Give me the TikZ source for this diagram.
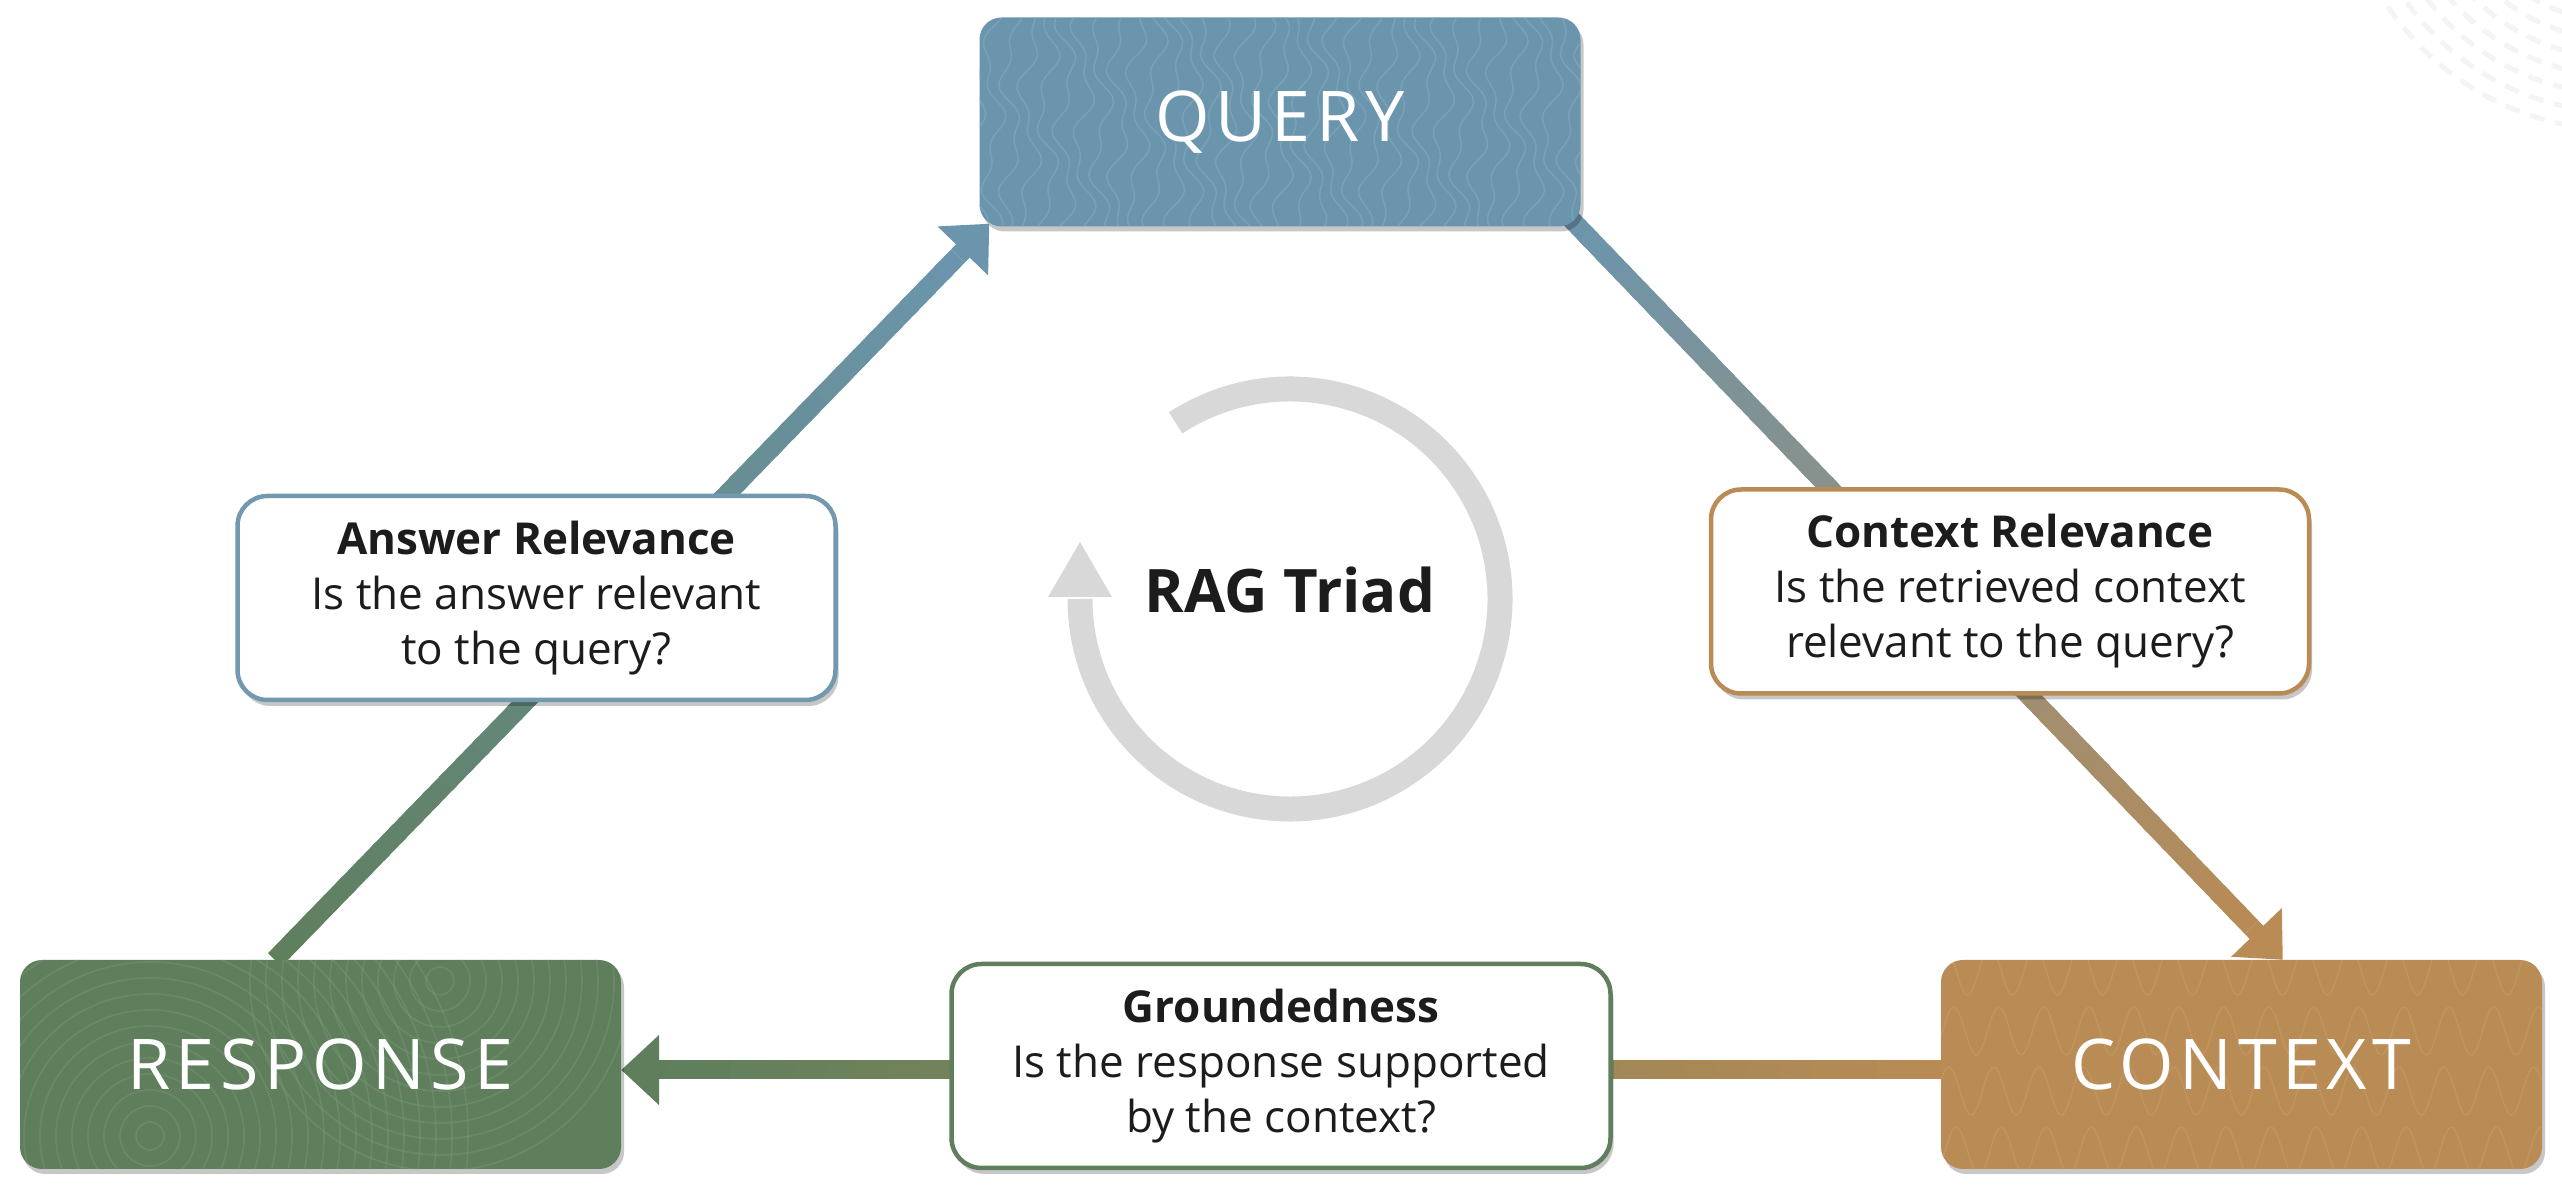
\documentclass[tikz,border=0pt]{standalone}
\usepackage{fontspec}
\setmainfont{Open Sans}
\usetikzlibrary{arrows.meta,calc,shadows}
\definecolor{qblue}{HTML}{6B95AD}
\definecolor{qbluel}{HTML}{8DB2C6}
\definecolor{qborder}{HTML}{7399AF}
\definecolor{rgreen}{HTML}{5F7F5C}
\definecolor{rgreenl}{HTML}{7C9A79}
\definecolor{ctan}{HTML}{B98B55}
\definecolor{ctanl}{HTML}{CCA170}
\definecolor{ringgray}{HTML}{D8D8D8}
\definecolor{txt}{HTML}{1C1C1C}
\pgfdeclarelayer{bg}
\pgfdeclarelayer{lines}
\pgfsetlayers{bg,lines,main}
\tikzset{
  mainbox/.style={rounded corners=22pt, minimum width=601pt, minimum height=209pt,
    inner sep=0pt, drop shadow={shadow xshift=3pt, shadow yshift=-5pt, opacity=0.22, fill=black}},
  maintext/.style={text=white, font=\fontsize{70}{76}\selectfont\addfontfeature{LetterSpace=8}},
  notebox/.style={rounded corners=30pt, fill=white, line width=4.5pt, minimum width=598pt,
    minimum height=204pt, align=center, text=txt, inner sep=0pt,
    font=\fontsize{44}{55}\selectfont,
    drop shadow={shadow xshift=3pt, shadow yshift=-6pt, opacity=0.22, fill=black}},
  connline/.style={line width=19pt, line cap=butt},
  headtip/.style={-{Triangle[length=38pt,width=68pt]}},
  textureline/.style={line width=1.6pt, opacity=0.4},
}
\newcommand\gradline[4]{%
  \foreach \k in {1,...,40}{%
    \pgfmathsetmacro\ga{(\k-1)/40}%
    \pgfmathsetmacro\gb{min(1,\k/40+0.008)}%
    \pgfmathsetmacro\gp{100-(\k-0.5)*2.5}%
    \draw[connline, draw=#3!\gp!#4] ($(#1)!\ga!(#2)$) -- ($(#1)!\gb!(#2)$);
  }}
\begin{document}
\begin{tikzpicture}[x=1pt,y=1pt]
\useasboundingbox (0,0) rectangle (2562,1196);
\begin{pgfonlayer}{bg}
  \fill[white] (0,0) rectangle (2562,1196);
  \begin{scope}
    \clip (0,0) rectangle (2562,1196);
    \foreach \r in {100,118,...,290}
      \draw[gray!9, line width=5pt, dash pattern=on 15pt off 11pt, dash phase=\r] (2620,1346) circle[radius=\r];
  \end{scope}
\end{pgfonlayer}

% ---------- main boxes ----------
\node[mainbox, fill=qblue] (query) at (1280,1074) {};
\begin{scope}
  \clip[rounded corners=22pt] (query.south west) rectangle (query.north east);
  \foreach \x in {975,993,...,1600}
    \draw[textureline, qbluel] plot[domain=960:1190, samples=40, smooth, variable=\t]
      ({\x+8*sin(3*\t+\x*3)+5*sin(7*\t-\x)}, \t);
\end{scope}
\node[maintext] (querytext) at (query) {QUERY};

\node[mainbox, fill=rgreen] (resp) at (320.5,131.5) {};
\begin{scope}
  \clip[rounded corners=22pt] (resp.south west) rectangle (resp.north east);
  \foreach \r in {14,30,...,320} {
    \draw[textureline, rgreenl] (150,60) circle[radius=\r];
  }
  \foreach \r in {14,30,...,200} {
    \draw[textureline, rgreenl] (440,215) circle[radius=\r];
  }
\end{scope}
\node[maintext] (resptext) at (resp) {RESPONSE};

\node[mainbox, fill=ctan] (ctx) at (2241.5,131.5) {};
\begin{scope}
  \clip[rounded corners=22pt] (ctx.south west) rectangle (ctx.north east);
  \foreach \yy/\ph in {45/0,105/60,165/20,225/90}
    \draw[textureline, ctanl] plot[domain=1930:2550, samples=160, smooth, variable=\t]
      ({\t}, {\yy+24*sin(8*(\t-1900)+\ph)});
\end{scope}
\node[maintext] (ctxtext) at (ctx) {CONTEXT};

% ---------- note boxes ----------
\node[notebox, draw=qborder] (ansrel) at (536.5,598)
  {\textbf{Answer Relevance}\\Is the answer relevant\\to the query?};
\node[notebox, draw=ctan] (ctxrel) at (2010,604.5)
  {\textbf{Context Relevance}\\Is the retrieved context\\relevant to the query?};
\node[notebox, draw=rgreen, minimum width=659pt] (ground) at (1281,130)
  {\textbf{Groundedness}\\Is the response supported\\by the context?};

% ---------- connectors ----------
\coordinate (r1) at ($(resp.north west)+(255,0)$);
\coordinate (q1) at ($(query.south west)+(10,3)$);
\coordinate (b1) at ($(q1)!45pt!(r1)$);
\coordinate (q2) at ($(query.south east)+(-12,10)$);
\coordinate (c2) at ($(ctx.north west)+(342,0)$);
\coordinate (b2) at ($(c2)!45pt!(q2)$);
\coordinate (c3) at ($(ctx.west)+(0,-5.5)$);
\coordinate (r3) at ($(resp.east)+(0,-5.5)$);
\coordinate (b3) at ($(r3)!45pt!(c3)$);
\begin{pgfonlayer}{lines}
  \gradline{r1}{b1}{rgreen}{qblue}
  \draw[connline, qblue, headtip] (b1) -- (q1);
  \gradline{q2}{b2}{qblue}{ctan}
  \draw[connline, ctan, headtip] (b2) -- (c2);
  \gradline{c3}{b3}{ctan}{rgreen}
  \draw[connline, rgreen, headtip] (b3) -- (r3);
\end{pgfonlayer}

% ---------- RAG triad ring ----------
\coordinate (ringc) at (1290,597);
\draw[ringgray, line width=25pt] ($(ringc)+(123:210)$) arc[start angle=123, end angle=-180, radius=210];
\fill[ringgray] ($(ringc)+(-242,2)$) -- ($(ringc)+(-178,2)$) -- ($(ringc)+(-210,57)$) -- cycle;
\node[anchor=base, text=txt, font=\bfseries\fontsize{60}{66}\selectfont] (rag) at (1290,583) {RAG Triad};
\end{tikzpicture}
\end{document}
